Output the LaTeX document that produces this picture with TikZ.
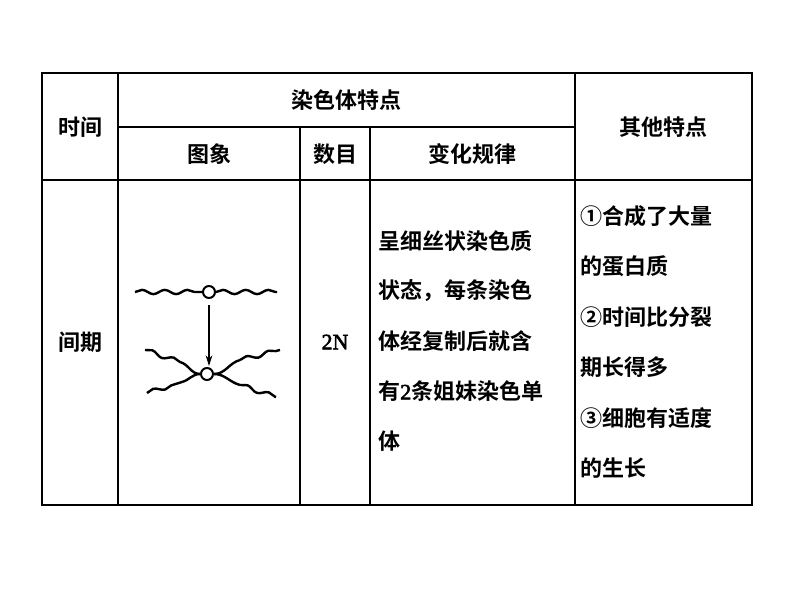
\documentclass[tikz,border=0pt]{standalone}
\usepackage{fontspec}
\setmainfont{Noto Sans CJK SC}[BoldFont={Noto Sans CJK SC Bold}]
\newfontfamily\numfont{Liberation Serif}[UprightFeatures={FakeBold=2.5}]
\usetikzlibrary{decorations.pathmorphing,arrows.meta}
\begin{document}
\begin{tikzpicture}[x=0.75pt,y=-0.75pt,
  txt/.style={font=\fontsize{16.5}{18}\selectfont\bfseries, inner sep=0pt},
  grid/.style={line width=0.9pt},
  strand/.style={line width=1.8pt, decorate, decoration={snake, amplitude=1.6, segment length=17}}]
\useasboundingbox (0,0) rectangle (800,600);
\draw[grid] (42,73) rectangle (752,505);
\draw[grid] (118,73) -- (118,505) (575,73) -- (575,505);
\draw[grid] (118,127) -- (575,127);
\draw[grid] (42,180) -- (752,180);
\draw[grid] (300,127) -- (300,505) (370,127) -- (370,505);
\node[txt] (t1) at (80,127) {时间};
\node[txt] (t2) at (346,100) {染色体特点};
\node[txt] (t3) at (663,127) {其他特点};
\node[txt] (t4) at (209,154) {图象};
\node[txt] (t5) at (335,154) {数目};
\node[txt] (t6) at (472,154) {变化规律};
\node[txt] (t7) at (80,342) {间期};
\node[txt] (t8) at (335,342) {\numfont\upshape\mdseries 2N};
\foreach \s [count=\i] in {呈细丝状染色质,状态，每条染色,体经复制后就含,有{\numfont\mdseries 2}条姐妹染色单,体}
  \node[txt,anchor=west] (c\i) at (378,{241+50*(\i-1)}) {\s};
\foreach \s [count=\i] in {①合成了大量,的蛋白质,②时间比分裂,期长得多,③细胞有适度,的生长}
  \node[txt,anchor=west] (d\i) at (580,{216+50.5*(\i-1)}) {\s};
% chromosome drawing
\node[circle,draw,line width=1.5pt,minimum size=9pt,inner sep=0pt] (ca) at (209,292) {};
\node[circle,draw,line width=1.5pt,minimum size=9pt,inner sep=0pt] (cb) at (207,374) {};
\coordinate (a1) at (135,292); \coordinate (a2) at (277,292);
\draw[strand] (a1) -- (ca.west);
\draw[strand] (ca.east) -- (a2);
\coordinate (b1) at (145,350); \coordinate (b2) at (147,393);
\coordinate (b3) at (280,350); \coordinate (b4) at (276,397);
\coordinate (b1m) at (180,362); \coordinate (b2m) at (182,382);
\coordinate (b3m) at (240,360); \coordinate (b4m) at (240,385);
\draw[strand] (b1) -- (b1m);
\draw[strand] (b2) -- (b2m);
\draw[strand] (b3m) -- (b3);
\draw[strand] (b4m) -- (b4);
\draw[line width=1.8pt] (b1m) to[out=-15,in=180] (cb.west);
\draw[line width=1.8pt] (b2m) to[out=15,in=180] (cb.west);
\draw[line width=1.8pt] (cb.east) to[out=0,in=195] (b3m);
\draw[line width=1.8pt] (cb.east) to[out=0,in=165] (b4m);
\draw[line width=0.9pt,-{Stealth[length=8pt,width=5pt]}] (ca.south) ++(0,6) coordinate (ar) -- (209,366);
\end{tikzpicture}
\end{document}
